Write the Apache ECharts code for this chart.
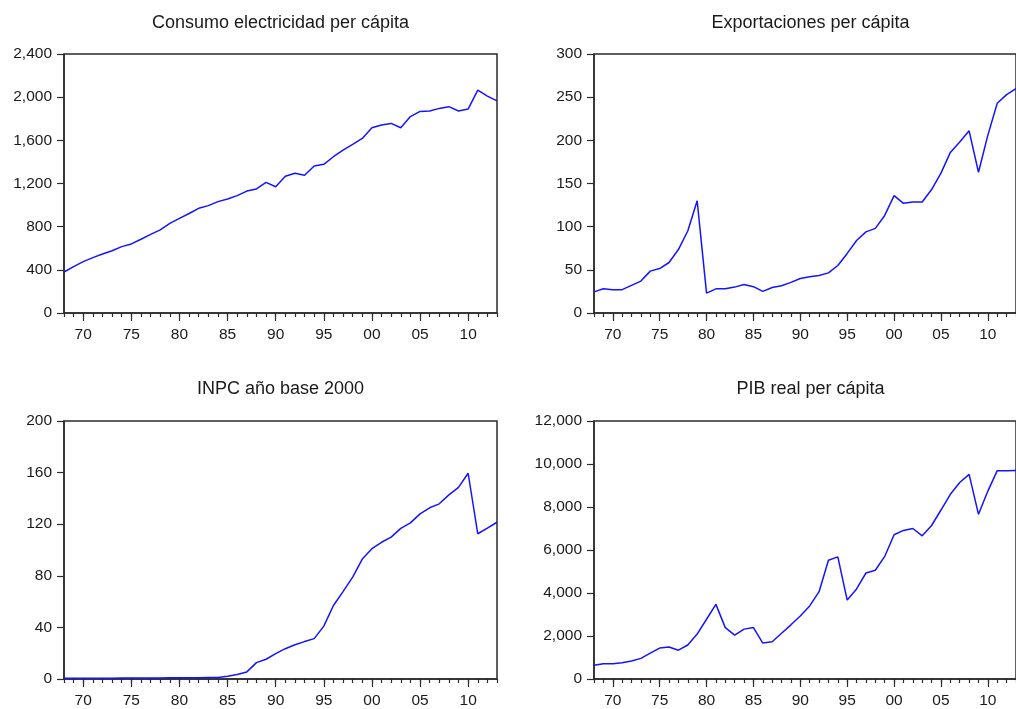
<!DOCTYPE html>
<html>
<head>
<meta charset="utf-8">
<script src="https://cdn.jsdelivr.net/npm/echarts@6/dist/echarts.min.js"></script>
<style>
  html, body { margin: 0; padding: 0; background: #ffffff; }
  #chart { width: 1016px; height: 709px; }
</style>
</head>
<body>
<div id="chart"></div>
<script>
// Annual observations, 1968-2013
const years = [
  1968, 1969, 1970, 1971, 1972, 1973, 1974, 1975, 1976, 1977,
  1978, 1979, 1980, 1981, 1982, 1983, 1984, 1985, 1986, 1987,
  1988, 1989, 1990, 1991, 1992, 1993, 1994, 1995, 1996, 1997,
  1998, 1999, 2000, 2001, 2002, 2003, 2004, 2005, 2006, 2007,
  2008, 2009, 2010, 2011, 2012, 2013
];

const consumoElectricidad = [
  380, 430, 476, 513, 547, 577, 615, 640, 683, 728,
  770, 830, 877, 922, 970, 995, 1032, 1057, 1088, 1130,
  1150, 1210, 1170, 1268, 1295, 1277, 1362, 1378, 1448, 1510,
  1563, 1618, 1716, 1742, 1757, 1717, 1820, 1868, 1872, 1896,
  1912, 1872, 1890, 2066, 2010, 1966
];

const exportaciones = [
  24.5, 28, 27, 27, 32, 37, 48.5, 51.5, 58.5, 73.5,
  95, 130, 23, 28, 28, 30, 33, 30.5, 25, 29.5,
  31.5, 35.5, 40, 42, 43.5, 46.5, 55, 69, 84, 94,
  98, 113, 136, 127, 128.5, 128.5, 143, 162, 186, 198,
  211, 163, 206, 243, 253, 260
];

const inpc = [
  0.5, 0.5, 0.5, 0.5, 0.6, 0.6, 0.7, 0.7, 0.8, 0.8,
  0.8, 0.9, 0.9, 1.0, 1.0, 1.1, 1.2, 2.2, 3.5, 5.5,
  12.7, 15.3, 19.7, 23.5, 26.6, 29, 31.3, 41, 57, 67.7,
  79, 93, 101, 106, 110, 116.8, 121, 128, 132.7, 135.8,
  142.7, 148.6, 159.5, 112.6, 117, 121.5
];

const pibReal = [
  640, 710, 712, 760, 840, 960, 1200, 1440, 1490, 1340,
  1580, 2090, 2780, 3470, 2390, 2040, 2320, 2390, 1670, 1730,
  2130, 2520, 2930, 3400, 4060, 5520, 5680, 3670, 4190, 4930,
  5060, 5700, 6710, 6910, 7000, 6660, 7140, 7860, 8590, 9140,
  9520, 7660, 8740, 9690, 9690, 9700
];

// Panel titles and vertical scales
const titles = [
  'Consumo electricidad per cápita',
  'Exportaciones per cápita',
  'INPC año base 2000',
  'PIB real per cápita'
];
const yMax = [2400, 300, 200, 12000];
const yStep = [400, 50, 40, 2000];
const seriesData = [consumoElectricidad, exportaciones, inpc, pibReal];

// Panel boxes (plot frames)
const panels = [
  { left: 64,  top: 54,  width: 433, height: 259 },
  { left: 594, top: 54,  width: 433, height: 259 },
  { left: 64,  top: 421, width: 433, height: 258 },
  { left: 594, top: 421, width: 433, height: 258 }
];

const FONT = '"Liberation Sans", Arial, sans-serif';
const INK = '#1a1a1a';
const FRAME = '#2b2b2b';
const isLabelYear = (i, v) => Number(v) % 5 === 0;

const grid = [], xAxis = [], yAxis = [], series = [], title = [];

panels.forEach((p, k) => {
  grid.push({
    left: p.left, top: p.top, width: p.width, height: p.height,
    show: true, borderColor: FRAME, borderWidth: 1.5, backgroundColor: '#ffffff'
  });

  title.push({
    text: titles[k],
    left: p.left + p.width / 2,
    top: p.top - (k < 2 ? 40 : 41),
    textAlign: 'center',
    padding: 0,
    textStyle: { fontFamily: FONT, fontSize: 18, fontWeight: 'normal', color: INK }
  });

  // yearly minor ticks
  xAxis.push({
    type: 'category', gridIndex: k, data: years, boundaryGap: false,
    position: 'bottom',
    axisLine: { onZero: false, lineStyle: { color: FRAME, width: 1.5 } },
    axisTick: { interval: 0, length: 4, lineStyle: { color: FRAME, width: 1.2 } },
    axisLabel: { show: false },
    splitLine: { show: false }
  });
  // five-year major ticks with two-digit labels
  xAxis.push({
    type: 'category', gridIndex: k, data: years, boundaryGap: false,
    position: 'bottom',
    axisLine: { show: false, onZero: false },
    axisTick: { interval: isLabelYear, length: 8, lineStyle: { color: FRAME, width: 1.2 } },
    axisLabel: {
      interval: isLabelYear, margin: 14,
      fontFamily: FONT, fontSize: 15.5, color: INK,
      formatter: v => String(v).slice(2)
    },
    splitLine: { show: false }
  });

  yAxis.push({
    type: 'value', gridIndex: k, min: 0, max: yMax[k], interval: yStep[k],
    axisLine: { show: true, lineStyle: { color: FRAME, width: 1.5 } },
    axisTick: { show: true, length: 7, lineStyle: { color: FRAME, width: 1.2 } },
    axisLabel: {
      margin: 12, fontFamily: FONT, fontSize: 15.5, color: INK,
      formatter: v => v.toLocaleString('en-US')
    },
    splitLine: { show: false }
  });

  series.push({
    type: 'line', xAxisIndex: 2 * k, yAxisIndex: k,
    data: seriesData[k], showSymbol: false, symbol: 'none',
    lineStyle: { color: '#1414ff', width: 1.5 },
    animation: false, silent: true
  });
});

const chart = echarts.init(document.getElementById('chart'), null, { renderer: 'canvas' });
chart.setOption({
  backgroundColor: '#ffffff',
  animation: false,
  title, grid, xAxis, yAxis, series
});
</script>
</body>
</html>
